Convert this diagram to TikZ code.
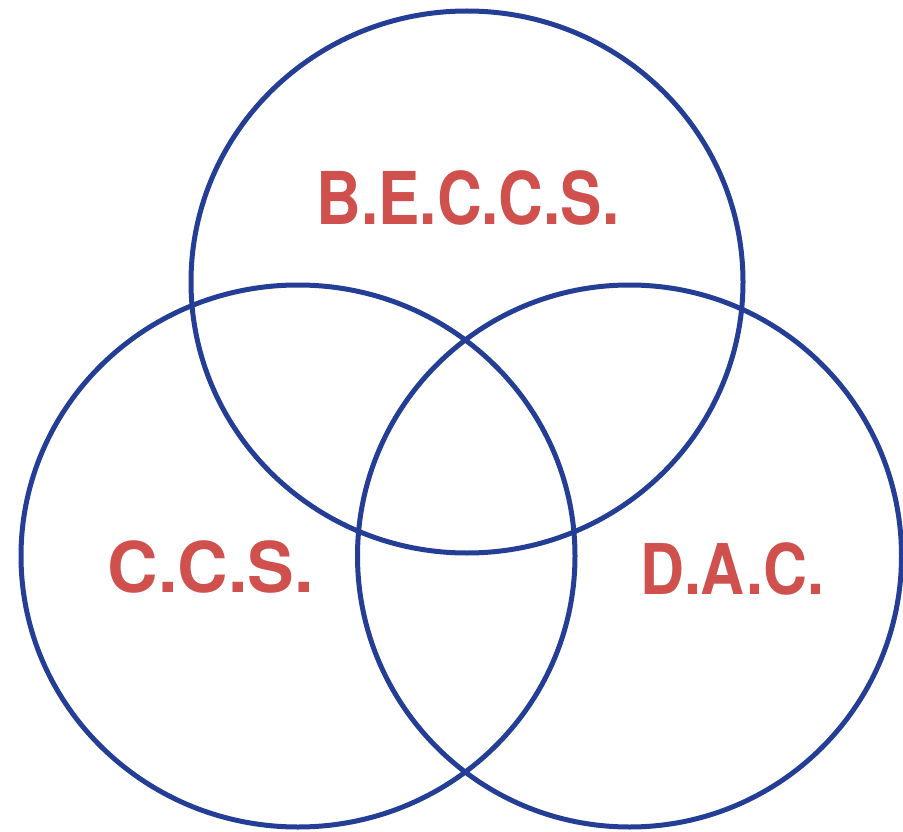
\documentclass[tikz,border=0pt]{standalone}
\usepackage{fontspec}
\setmainfont{TeX Gyre Heros}
\definecolor{ringblue}{RGB}{36,62,150}
\definecolor{labelred}{RGB}{208,80,77}
\begin{document}
\begin{tikzpicture}[x=1pt,y=-1pt,
  ring/.style={draw=ringblue,line width=5pt},
  lab/.style={text=labelred,inner sep=0pt,font=\fontsize{70}{70}\selectfont\bfseries}]
\useasboundingbox (0,0) rectangle (903,832);
\draw[ring] (467,282) ellipse [x radius=276, y radius=271];
\draw[ring] (298,556) ellipse [x radius=277, y radius=271];
\draw[ring] (629.5,556) ellipse [x radius=272, y radius=271];
\node[lab,xscale=0.885,yscale=1.04] (beccs) at (468,198) {B.E.C.C.S.};
\node[lab] (ccs) at (211,567) {C.C.S.};
\node[lab,xscale=0.87] (dac) at (732,569) {D.A.C.};
\end{tikzpicture}
\end{document}
